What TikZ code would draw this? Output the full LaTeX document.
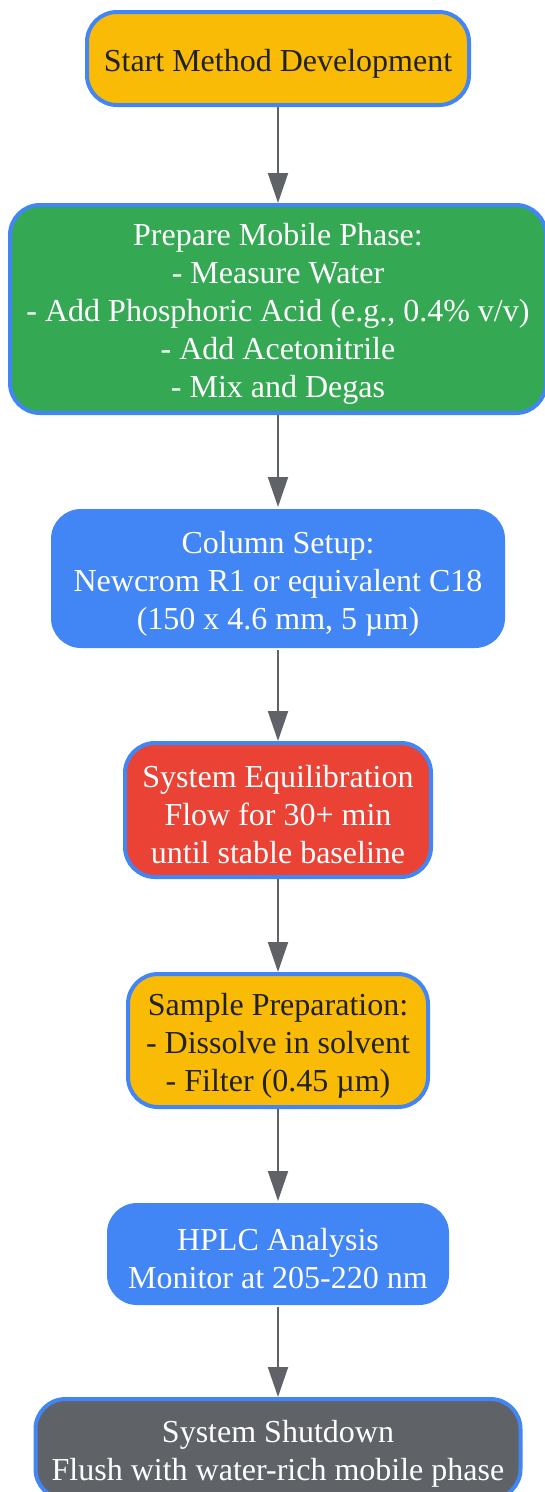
\documentclass[tikz,border=0pt]{standalone}
\usepackage{fontspec}
\setmainfont{Liberation Serif}
\usetikzlibrary{arrows.meta}
\definecolor{gyellow}{HTML}{F9BB06}
\definecolor{ggreen}{HTML}{34A853}
\definecolor{gblue}{HTML}{4285F4}
\definecolor{gred}{HTML}{EA4335}
\definecolor{ggray}{HTML}{5F6368}
\definecolor{gtext}{HTML}{202124}
\begin{document}
\begin{tikzpicture}[x=1pt,y=-1pt,inner sep=0pt,
stepbox/.style={draw=gblue,line width=4pt,rectangle,rounded corners=30pt,align=center,font=\fontsize{32}{38}\selectfont},
flatbox/.style={stepbox,draw=none},
flow/.style={draw=ggray,line width=2pt,-{Triangle[length=30pt,width=20pt]}}]
\useasboundingbox (0,0) rectangle (545,1492);
\draw (278,58.5) node[stepbox,fill=gyellow,text=gtext,minimum width=382,minimum height=93] (start) {\rule{0pt}{32pt}Start Method Development};
\draw (278,309) node[stepbox,fill=ggreen,text=white,minimum width=536,minimum height=208] (mobile) {\rule{0pt}{32pt}Prepare Mobile Phase:\\- Measure Water\\- Add Phosphoric Acid (e.g., 0.4\% v/v)\\- Add Acetonitrile\\- Mix and Degas};
\draw (278,578.5) node[flatbox,fill=gblue,text=white,minimum width=454,minimum height=139] (column) {\rule{0pt}{32pt}Column Setup:\\Newcrom R1 or equivalent C18\\(150 x 4.6 mm, 5 µm)};
\draw (278,810) node[stepbox,fill=gred,text=white,minimum width=306,minimum height=134] (equil) {\rule{0pt}{32pt}System Equilibration\\Flow for 30+ min\\until stable baseline};
\draw (278,1040.5) node[stepbox,fill=gyellow,text=gtext,minimum width=300,minimum height=133] (sample) {\rule{0pt}{32pt}Sample Preparation:\\- Dissolve in solvent\\- Filter (0.45 µm)};
\draw (278,1254) node[flatbox,fill=gblue,text=white,minimum width=342,minimum height=102] (hplc) {\rule{0pt}{32pt}HPLC Analysis\\Monitor at 205-220 nm};
\draw (278,1449) node[stepbox,fill=ggray,text=white,minimum width=485,minimum height=100] (shutdown) {\rule{0pt}{32pt}System Shutdown\\Flush with water-rich mobile phase};
\draw[flow] (start) -- (mobile);
\draw[flow] (mobile) -- (column);
\draw[flow] (column) -- (equil);
\draw[flow] (equil) -- (sample);
\draw[flow] (sample) -- (hplc);
\draw[flow] (hplc) -- (shutdown);
\end{tikzpicture}
\end{document}
